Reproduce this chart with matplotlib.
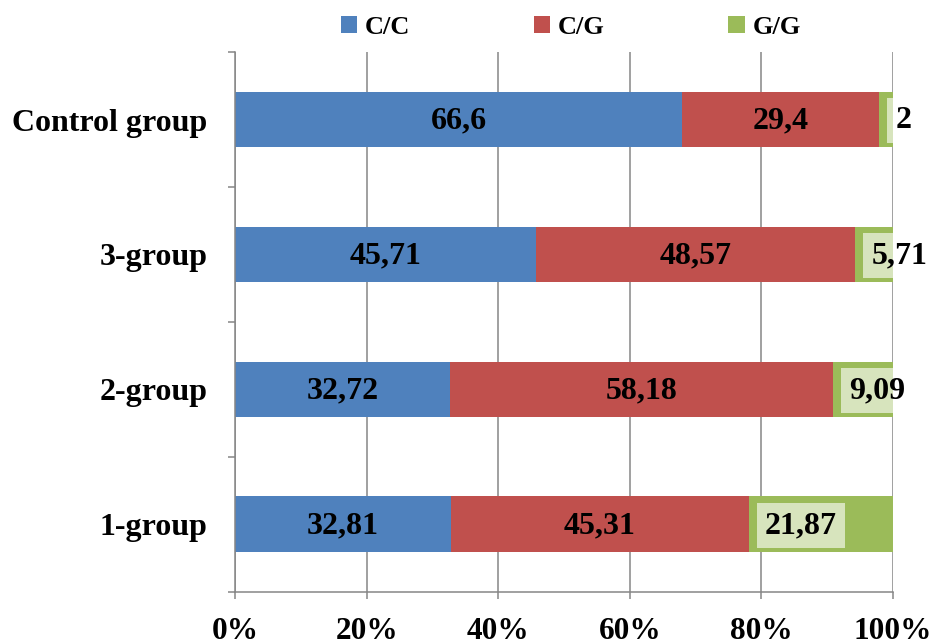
import matplotlib
matplotlib.use('Agg')
import matplotlib.pyplot as plt
from matplotlib.patches import Patch

plt.rcParams['font.family'] = ['Liberation Serif', 'DejaVu Serif']
plt.rcParams['font.weight'] = 'bold'

# genotype frequencies, %, bottom row first
groups = ['1-group', '2-group', '3-group', 'Control group']
cc = [32.81, 32.72, 45.71, 66.6]
cg = [45.31, 58.18, 48.57, 29.4]
gg = [21.87, 9.09, 5.71, 2]
series_names = ['C/C', 'C/G', 'G/G']
tick_labels = ['0%', '20%', '40%', '60%', '80%', '100%']

colors = ['#4F81BD', '#C0504D', '#9BBB59']
box_color = '#D7E4BD'
grey = '#868686'


def fmt(v):
    return f'{v:g}'.replace('.', ',')


fig = plt.figure(figsize=(9.39, 6.44), dpi=100)
ax = fig.add_axes([0.2503, 0.0815, 0.7005, 0.8375])

ypos = list(range(len(groups)))
totals = [a + b + c for a, b, c in zip(cc, cg, gg)]
left = [0.0] * len(groups)

for k, vals in enumerate([cc, cg, gg]):
    shares = [v / t for v, t in zip(vals, totals)]
    ax.barh(ypos, shares, left=left, height=0.41, color=colors[k],
            edgecolor='none', zorder=3)
    for i, (v, s) in enumerate(zip(vals, shares)):
        if k < 2:
            ax.text(left[i] + s / 2, i - 0.01, fmt(v), ha='center', va='center',
                    fontsize=23, fontweight='bold', zorder=5)
        else:
            # light box, cut at the plot edge, text drawn over it unclipped
            ax.annotate(fmt(v), xy=(left[i], i - 0.01), xytext=(11.5, 0),
                        textcoords='offset points', ha='left', va='center',
                        fontsize=23, fontweight='bold', color='none',
                        clip_on=True, zorder=4,
                        bbox=dict(boxstyle='square,pad=0.25', fc=box_color,
                                  ec='none'))
            ax.annotate(fmt(v), xy=(left[i], i - 0.01), xytext=(11.5, 0),
                        textcoords='offset points', ha='left', va='center',
                        fontsize=23, fontweight='bold', annotation_clip=False,
                        zorder=6)
    left = [l + s for l, s in zip(left, shares)]

ax.set_xlim(0, 1)
ax.set_ylim(-0.5, len(groups) - 0.5)

ax.set_xticks([i / 5 for i in range(6)])
ax.set_xticklabels(tick_labels, fontsize=22.5, fontweight='bold')
ax.tick_params(axis='x', direction='out', length=5, width=1.1, color=grey,
               pad=13)

ax.set_yticks(ypos)
ax.set_yticklabels(groups, fontsize=23, fontweight='bold')
ax.set_yticks([i - 0.5 for i in range(len(groups) + 1)], minor=True)
ax.tick_params(axis='y', which='major', length=0, pad=20)
ax.tick_params(axis='y', which='minor', direction='out', length=5,
               width=1.1, color=grey)

ax.grid(axis='x', color=grey, linewidth=1.1, zorder=0)
for side in ['top', 'right']:
    ax.spines[side].set_visible(False)
for side in ['left', 'bottom']:
    ax.spines[side].set_color(grey)
    ax.spines[side].set_linewidth(1.1)
    ax.spines[side].set_zorder(4)

handles = [Patch(facecolor=c, edgecolor='none') for c in colors]
fig.legend(handles, series_names, loc='center', bbox_to_anchor=(0.608, 0.958),
           ncol=3, frameon=False, handlelength=0.62, handleheight=0.62,
           handletextpad=0.3, columnspacing=4.67,
           prop={'size': 19, 'weight': 'bold'})

fig.savefig('out.png', dpi=100)
